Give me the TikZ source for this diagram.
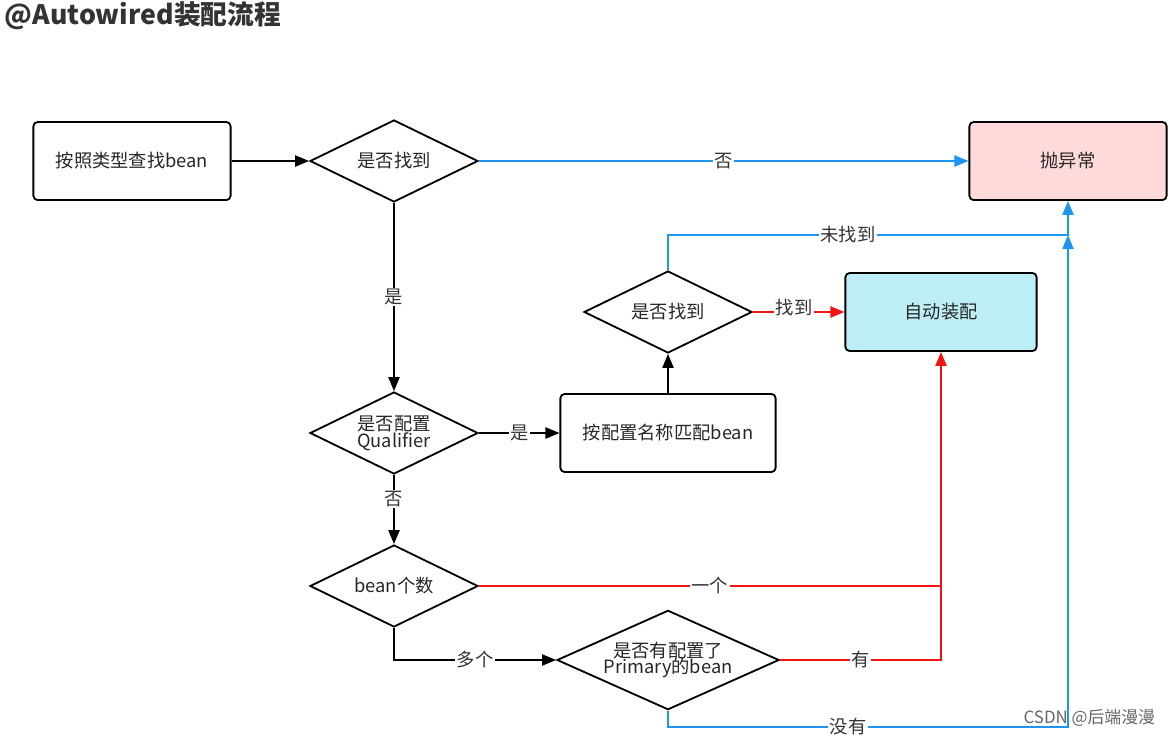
\documentclass[tikz,border=0pt]{standalone}
\usepackage{fontspec}
\setmainfont{Noto Sans CJK SC}
\usepackage{tikz}
\usetikzlibrary{shapes.geometric, arrows.meta}

\definecolor{errfill}{RGB}{255,218,218}
\definecolor{okfill}{RGB}{190,238,245}
\definecolor{lineblue}{RGB}{30,150,240}
\definecolor{linered}{RGB}{240,20,20}

\tikzset{
  box/.style={draw, line width=1.3pt, rounded corners=3pt, minimum width=4.93cm, minimum height=1.95cm, font=\fontsize{13}{15}\selectfont, text=black!85},
  choice/.style={draw, line width=1.3pt, diamond, aspect=2.05, minimum width=4.2cm, minimum height=2.05cm, inner sep=0pt, font=\fontsize{13}{15}\selectfont, align=center, text=black!85},
  flow/.style={line width=1.2pt, -{Triangle[length=10pt, width=8pt]}},
  tag/.style={fill=white, inner sep=1pt, font=\fontsize{13}{15}\selectfont, text=black!80}
}

\begin{document}
\begin{tikzpicture}[x=0.025cm, y=-0.025cm]
\useasboundingbox (0,0) rectangle (1174,737);
% title
\node[anchor=west, font=\fontsize{19}{22}\selectfont\bfseries, text=black!80] (title) at (0,16) {@Autowired装配流程};
% boxes
\node[box] (find) at (132,161) {按照类型查找bean};
\node[box, fill=errfill] (err) at (1068,161) {抛异常};
\node[box, minimum width=5.38cm] (byname) at (668,433) {按配置名称匹配bean};
\node[box, fill=okfill, minimum width=4.78cm] (wire) at (941,312) {自动装配};
% decisions
\node[choice] (found) at (394,161) {是否找到};
\node[choice] (qual) at (394,433) {是否配置\\[-3pt]Qualifier};
\node[choice] (found2) at (668,312) {是否找到};
\node[choice] (count) at (394,586) {bean个数};
\node[choice, minimum width=5.55cm, minimum height=2.25cm] (prim) at (668,660) {是否有配置了\\[-3pt]Primary的bean};
% corners
\coordinate (c1) at (668,235);
\coordinate (c2) at (1068,235);
\coordinate (c3) at (941,586);
\coordinate (c4) at (394,660);
\coordinate (c5) at (941,660);
\coordinate (c6) at (668,727);
\coordinate (c7) at (1068,727);
% black flow
\draw[flow] (find) -- (found);
\draw[flow] (found) -- node[tag, pos=0.5] {是} (qual);
\draw[flow] (qual) -- node[tag] {是} (byname);
\draw[flow] (byname) -- (found2);
\draw[flow] (qual) -- node[tag, pos=0.35] {否} (count);
\draw[flow] (count.south) -- (c4) -- node[tag] {多个} (prim.west);
% blue flow
\draw[flow, lineblue] (found) -- node[tag, pos=0.5] {否} (err);
\draw[flow, lineblue] (found2.north) -- (c1) -- node[tag, pos=0.45] {未找到} (c2) -- (err.south);
\draw[flow, lineblue] (prim.south) -- (c6) -- node[tag, pos=0.45] {没有} (c7) -- (c2);
% red flow
\draw[flow, linered] (found2) -- node[tag, yshift=3pt, pos=0.45] {找到} (wire);
\draw[flow, linered] (count) -- node[tag, pos=0.5] {一个} (c3) -- (wire.south);
\draw[line width=1.2pt, linered] (prim.east) -- node[tag] {有} (c5) -- (c3);
% watermark
\node[anchor=east, font=\fontsize{12}{14}\selectfont, text=black!60] (mark) at (1160,718) {CSDN @后端漫漫};
\end{tikzpicture}
\end{document}
